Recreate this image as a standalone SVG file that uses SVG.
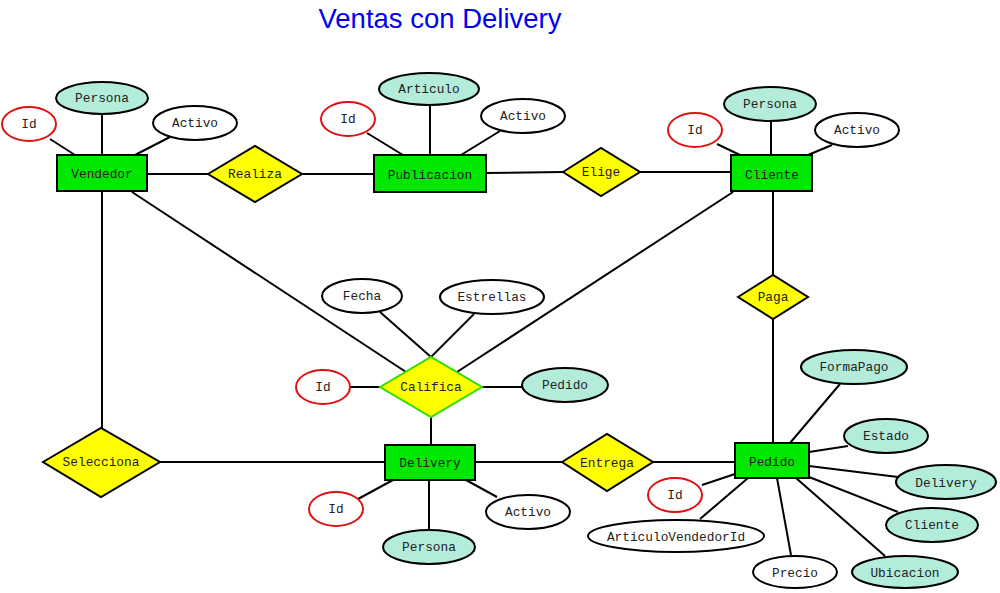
<svg xmlns="http://www.w3.org/2000/svg" width="1000" height="593" viewBox="0 0 1000 593">
<style>
.ent{fill:#00e800;stroke:#000;stroke-width:2}
.rel{fill:#ffff00;stroke:#000;stroke-width:2}
.relg{fill:#ffff00;stroke:#33dd00;stroke-width:2}
.att{fill:#fff;stroke:#000;stroke-width:2}
.key{fill:#fff;stroke:#dd1111;stroke-width:2}
.fk{fill:#b4ecdc;stroke:#000;stroke-width:2}
.lk line{stroke:#000;stroke-width:2}
text{font-family:"Liberation Mono","DejaVu Sans Mono",monospace;font-size:12.8px;fill:#222;text-anchor:middle;dominant-baseline:central}
.title{font-family:"Liberation Sans",Arial,sans-serif;font-size:27.5px;fill:#0000ee;dominant-baseline:auto}
</style>
<rect width="1000" height="593" fill="#fff"/>
<text class="title" x="440" y="28">Ventas con Delivery</text>
<g id="connectors" class="lk">
<line x1="50" y1="139" x2="75" y2="155"/>
<line x1="102" y1="114" x2="102" y2="155"/>
<line x1="170" y1="137" x2="135" y2="155"/>
<line x1="147" y1="174" x2="208" y2="174"/>
<line x1="302" y1="174" x2="374" y2="174"/>
<line x1="367" y1="133" x2="403" y2="155"/>
<line x1="430" y1="105" x2="430" y2="155"/>
<line x1="500" y1="131" x2="461" y2="155"/>
<line x1="486" y1="173" x2="563" y2="172"/>
<line x1="640" y1="172" x2="731" y2="172"/>
<line x1="717" y1="144" x2="740" y2="155"/>
<line x1="771" y1="121" x2="771" y2="155"/>
<line x1="832" y1="145" x2="808" y2="155"/>
<line x1="773" y1="191" x2="773" y2="275"/>
<line x1="773" y1="319" x2="773" y2="443"/>
<line x1="102" y1="191" x2="102" y2="428"/>
<line x1="160" y1="462" x2="385" y2="462"/>
<line x1="475" y1="462" x2="562" y2="462"/>
<line x1="653" y1="462" x2="735" y2="462"/>
<line x1="132" y1="192" x2="406" y2="372"/>
<line x1="733" y1="192" x2="457" y2="372"/>
<line x1="431" y1="417" x2="431" y2="445"/>
<line x1="380" y1="312" x2="431" y2="357"/>
<line x1="474" y1="314" x2="431" y2="357"/>
<line x1="350" y1="387" x2="380" y2="387"/>
<line x1="482" y1="387" x2="523" y2="387"/>
<line x1="358" y1="499" x2="393" y2="480"/>
<line x1="429" y1="480" x2="429" y2="530"/>
<line x1="497" y1="497" x2="466" y2="480"/>
<line x1="840" y1="384" x2="790" y2="443"/>
<line x1="809" y1="452" x2="848" y2="446"/>
<line x1="809" y1="466" x2="898" y2="477"/>
<line x1="809" y1="477" x2="898" y2="512"/>
<line x1="796" y1="478" x2="885" y2="556"/>
<line x1="777" y1="478" x2="791" y2="555"/>
<line x1="748" y1="478" x2="700" y2="519"/>
<line x1="702" y1="485" x2="735" y2="474"/>
</g>
<g id="Vendedor"><rect class="ent" x="57" y="155" width="90" height="36"/><text x="102" y="174">Vendedor</text></g>
<g id="Vendedor_Id"><ellipse class="key" cx="29" cy="124" rx="27" ry="17"/><text x="29" y="124">Id</text></g>
<g id="Vendedor_Persona"><ellipse class="fk" cx="102" cy="98" rx="46" ry="16"/><text x="102" y="98">Persona</text></g>
<g id="Vendedor_Activo"><ellipse class="att" cx="195" cy="123" rx="42" ry="17"/><text x="195" y="123">Activo</text></g>
<g id="Realiza"><polygon class="rel" points="208,174 255,146 302,174 255,202"/><text x="255" y="174">Realiza</text></g>
<g id="Publicacion"><rect class="ent" x="374" y="155" width="112" height="37"/><text x="430" y="175">Publicacion</text></g>
<g id="Publicacion_Id"><ellipse class="key" cx="348" cy="119" rx="27" ry="17"/><text x="348" y="119">Id</text></g>
<g id="Publicacion_Articulo"><ellipse class="fk" cx="429" cy="89" rx="50" ry="16"/><text x="429" y="89">Articulo</text></g>
<g id="Publicacion_Activo"><ellipse class="att" cx="523" cy="116" rx="42" ry="17"/><text x="523" y="116">Activo</text></g>
<g id="Elige"><polygon class="rel" points="563,172 601,148 640,172 601,196"/><text x="601" y="172">Elige</text></g>
<g id="Cliente"><rect class="ent" x="731" y="155" width="81" height="36"/><text x="772" y="175">Cliente</text></g>
<g id="Cliente_Id"><ellipse class="key" cx="695" cy="130" rx="27" ry="17"/><text x="695" y="130">Id</text></g>
<g id="Cliente_Persona"><ellipse class="fk" cx="770" cy="104" rx="46" ry="17"/><text x="770" y="104">Persona</text></g>
<g id="Cliente_Activo"><ellipse class="att" cx="857" cy="130" rx="42" ry="17"/><text x="857" y="130">Activo</text></g>
<g id="Paga"><polygon class="rel" points="738,297 773,275 808,297 773,319"/><text x="773" y="297">Paga</text></g>
<g id="Califica"><polygon class="relg" points="380,387 431,357 482,387 431,417"/><text x="431" y="387">Califica</text></g>
<g id="Califica_Fecha"><ellipse class="att" cx="362" cy="296" rx="40" ry="17"/><text x="362" y="296">Fecha</text></g>
<g id="Califica_Estrellas"><ellipse class="att" cx="492" cy="297" rx="52" ry="17"/><text x="492" y="297">Estrellas</text></g>
<g id="Califica_Id"><ellipse class="key" cx="323" cy="387" rx="27" ry="17"/><text x="323" y="387">Id</text></g>
<g id="Califica_Pedido"><ellipse class="fk" cx="565" cy="385" rx="43" ry="17"/><text x="565" y="385">Pedido</text></g>
<g id="Selecciona"><polygon class="rel" points="43,462 101,428 160,462 101,497"/><text x="101" y="462">Selecciona</text></g>
<g id="Delivery"><rect class="ent" x="385" y="445" width="90" height="35"/><text x="430" y="463">Delivery</text></g>
<g id="Delivery_Id"><ellipse class="key" cx="336" cy="509" rx="27" ry="17"/><text x="336" y="509">Id</text></g>
<g id="Delivery_Persona"><ellipse class="fk" cx="429" cy="547" rx="46" ry="17"/><text x="429" y="547">Persona</text></g>
<g id="Delivery_Activo"><ellipse class="att" cx="528" cy="512" rx="42" ry="17"/><text x="528" y="512">Activo</text></g>
<g id="Entrega"><polygon class="rel" points="562,462 607,434 653,462 607,491"/><text x="607" y="463">Entrega</text></g>
<g id="Pedido"><rect class="ent" x="735" y="443" width="74" height="35"/><text x="772" y="462">Pedido</text></g>
<g id="Pedido_FormaPago"><ellipse class="fk" cx="854" cy="367" rx="53" ry="17"/><text x="854" y="367">FormaPago</text></g>
<g id="Pedido_Estado"><ellipse class="fk" cx="886" cy="436" rx="42" ry="17"/><text x="886" y="436">Estado</text></g>
<g id="Pedido_Delivery"><ellipse class="fk" cx="946" cy="482" rx="50" ry="17"/><text x="946" y="483">Delivery</text></g>
<g id="Pedido_Cliente"><ellipse class="fk" cx="932" cy="525" rx="46" ry="17"/><text x="932" y="525">Cliente</text></g>
<g id="Pedido_Ubicacion"><ellipse class="fk" cx="905" cy="572" rx="53" ry="16"/><text x="905" y="573">Ubicacion</text></g>
<g id="Pedido_Precio"><ellipse class="att" cx="795" cy="572" rx="42" ry="16"/><text x="795" y="573">Precio</text></g>
<g id="Pedido_ArticuloVendedorId"><ellipse class="att" cx="676" cy="536" rx="88" ry="16"/><text x="676" y="537">ArticuloVendedorId</text></g>
<g id="Pedido_Id"><ellipse class="key" cx="675" cy="495" rx="27" ry="17"/><text x="675" y="495">Id</text></g>
</svg>
